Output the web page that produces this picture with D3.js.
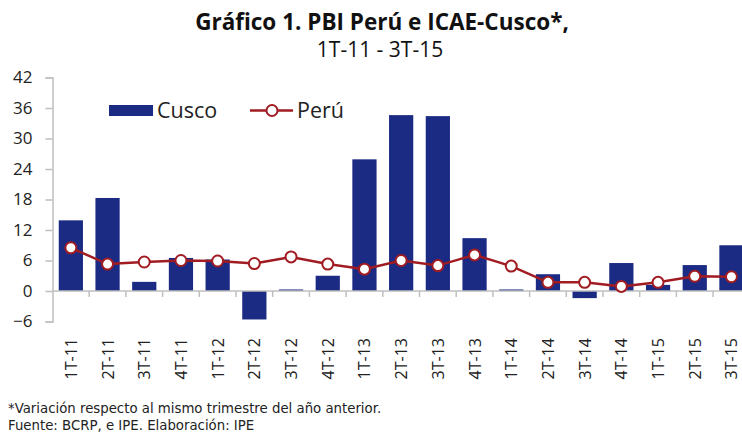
<!DOCTYPE html>
<html><head><meta charset="utf-8">
<script src="https://cdn.jsdelivr.net/npm/d3@7"></script>
<style>body{margin:0;background:#fff;overflow:hidden}svg{display:block}</style>
</head><body><svg id="c" width="742" height="432"></svg>
<script>
const categories = ["1T-11","2T-11","3T-11","4T-11","1T-12","2T-12","3T-12","4T-12","1T-13","2T-13","3T-13","4T-13","1T-14","2T-14","3T-14","4T-14","1T-15","2T-15","3T-15"];
const cusco = [13.9,18.3,1.8,6.5,6.2,-5.6,0.3,3.0,25.9,34.6,34.4,10.4,0.3,3.3,-1.4,5.5,1.2,5.1,9.0];
const peru = [8.5,5.3,5.7,6.0,5.9,5.4,6.7,5.3,4.3,6.0,5.0,7.1,4.9,1.7,1.7,0.9,1.7,2.9,2.8];
const yTicks = [-6,0,6,12,18,24,30,36,42];

const svg = d3.select("#c");
const font = "'Open Sans', 'DejaVu Sans', sans-serif";
const x = d3.scaleBand().domain(categories).range([52.5, 749.8]).paddingInner(0.34).paddingOuter(0.17);
const y = d3.scaleLinear().domain([-6, 42]).range([321.5, 77.5]);
const grey = "#bfbfbf";

// title
svg.append("text").attr("x", 382).attr("y", 30).attr("text-anchor", "middle")
  .style("font-family", font).style("font-weight", "bold").style("font-size", "22.5px").attr("fill", "#111")
  .text("Gráfico 1. PBI Perú e ICAE-Cusco*,");
svg.append("text").attr("x", 380).attr("y", 56.5).attr("text-anchor", "middle")
  .style("font-family", font).style("font-size", "21px").attr("fill", "#111")
  .text("1T-11 - 3T-15");

// y axis
const yAxis = d3.axisLeft(y).tickValues(yTicks).tickSize(7).tickPadding(13);
const ga = svg.append("g").attr("transform", "translate(52.5,0)").call(yAxis);
ga.select(".domain").attr("stroke", grey).attr("stroke-width", 1.5);
ga.selectAll(".tick line").attr("stroke", grey).attr("stroke-width", 1.5);
ga.selectAll(".tick text").style("font-family", font).style("font-size", "17px").attr("fill", "#222");

// bars
svg.append("g").selectAll("rect").data(cusco).join("rect")
  .attr("x", (d, i) => x(categories[i]))
  .attr("width", x.bandwidth())
  .attr("y", d => y(Math.max(0, d)))
  .attr("height", d => Math.abs(y(d) - y(0)))
  .attr("fill", "#1b2a82");

// zero axis with category ticks
const step = x.step();
const gx = svg.append("g");
gx.append("line").attr("x1", 52.5).attr("x2", 749.8).attr("y1", y(0)).attr("y2", y(0)).attr("stroke", grey).attr("stroke-width", 1.5);
gx.selectAll("line.t").data(categories.slice(1)).join("line").attr("class", "t")
  .attr("x1", d => x(d) - step * 0.17).attr("x2", d => x(d) - step * 0.17)
  .attr("y1", y(0)).attr("y2", y(0) + 6).attr("stroke", grey).attr("stroke-width", 1.5);

// x labels
svg.append("g").selectAll("text").data(categories).join("text")
  .attr("transform", d => `translate(${x(d) + x.bandwidth() / 2 + 6},338) rotate(-90)`)
  .attr("text-anchor", "end")
  .style("font-family", font).style("font-size", "16px").attr("fill", "#222")
  .text(d => d);

// line
const line = d3.line().x((d, i) => x(categories[i]) + x.bandwidth() / 2).y(d => y(d));
svg.append("path").datum(peru).attr("d", line).attr("fill", "none").attr("stroke", "#a11c22").attr("stroke-width", 2.5);
svg.append("g").selectAll("circle").data(peru).join("circle")
  .attr("cx", (d, i) => x(categories[i]) + x.bandwidth() / 2).attr("cy", d => y(d)).attr("r", 5.5)
  .attr("fill", "#fff").attr("stroke", "#a11c22").attr("stroke-width", 2);

// legend
const lg = svg.append("g");
lg.append("rect").attr("x", 109).attr("y", 105).attr("width", 44).attr("height", 11).attr("fill", "#1b2a82");
lg.append("text").attr("x", 157).attr("y", 117.5).style("font-family", font).style("font-size", "21.5px").attr("fill", "#222").text("Cusco");
lg.append("line").attr("x1", 250).attr("x2", 293).attr("y1", 110.5).attr("y2", 110.5).attr("stroke", "#a11c22").attr("stroke-width", 2.5);
lg.append("circle").attr("cx", 272).attr("cy", 110.5).attr("r", 5.5).attr("fill", "#fff").attr("stroke", "#a11c22").attr("stroke-width", 2);
lg.append("text").attr("x", 297).attr("y", 117.5).style("font-family", font).style("font-size", "21.5px").attr("fill", "#222").text("Perú");

// footnotes
const nf = "'DejaVu Sans', 'Open Sans', sans-serif";
svg.append("text").attr("x", 8).attr("y", 413).style("font-family", nf).style("font-size", "13.3px").attr("fill", "#222")
  .text("*Variación respecto al mismo trimestre del año anterior.");
svg.append("text").attr("x", 8).attr("y", 430).style("font-family", nf).style("font-size", "13.3px").attr("fill", "#222")
  .text("Fuente: BCRP, e IPE. Elaboración: IPE");
</script></body></html>
